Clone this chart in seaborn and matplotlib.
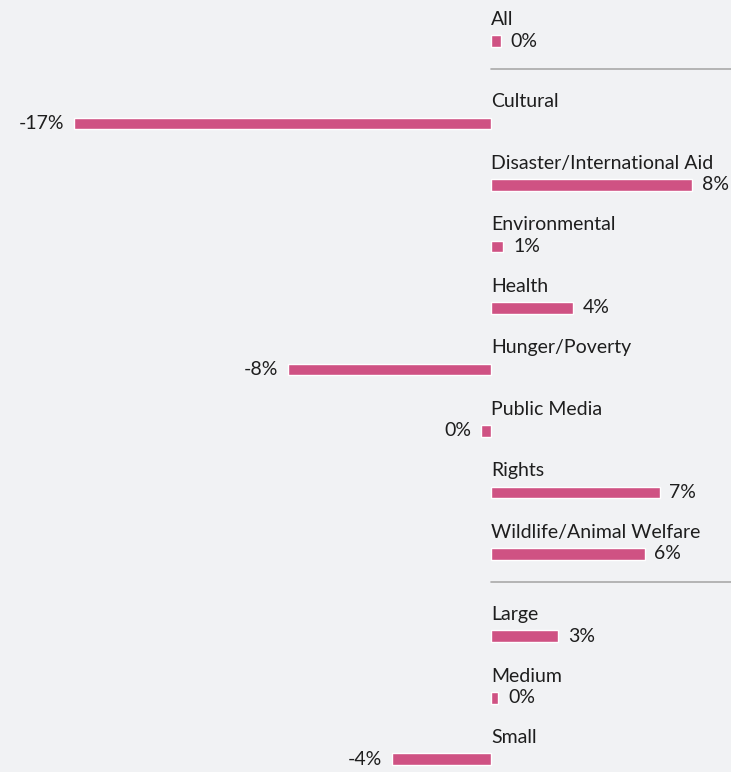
import numpy as np
import pandas as pd
import matplotlib
matplotlib.use("Agg")
import matplotlib.pyplot as plt
import seaborn as sns

# data (change in %)
categories = ["All", "Cultural", "Disaster/International Aid", "Environmental",
              "Health", "Hunger/Poverty", "Public Media", "Rights",
              "Wildlife/Animal Welfare", "Large", "Medium", "Small"]
values = [0.4, -16.8, 8.1, 0.5, 3.3, -8.2, -0.4, 6.8, 6.2, 2.7, 0.3, -4.0]
value_labels = ["0%", "-17%", "8%", "1%", "4%", "-8%", "0%", "7%", "6%",
                "3%", "0%", "-4%"]
group = ["total", "cause", "cause", "cause", "cause", "cause", "cause",
         "cause", "cause", "size", "size", "size"]

BG = "#f1f2f4"
BAR = "#cf5283"
TEXT = "#1e1e1e"

sns.set_theme(style="white")
plt.rcParams["font.family"] = ["Lato", "DejaVu Sans"]

# row positions: one step per row, an extra gap between groups
pos = []
p = 0.0
for i, g in enumerate(group):
    if i > 0 and g != group[i - 1]:
        p += 0.34
    pos.append(p)
    p += 1.0

df = pd.DataFrame({"category": categories, "value": values,
                   "label": value_labels, "pos": pos})

fig = plt.figure(figsize=(7.31, 7.72), dpi=100)
fig.patch.set_facecolor(BG)
ax = fig.add_axes([0, 0, 1, 1])
ax.set_facecolor(BG)

sns.barplot(data=df, x="value", y="pos", orient="h", native_scale=True,
            color=BAR, saturation=1, width=0.19, ax=ax)

ax.set_xlim(-19.8, 9.68)
ax.set_ylim(11.886, -0.667)
ax.set_axis_off()

for _, r in df.iterrows():
    ax.annotate(r["category"], xy=(0, r["pos"]), xytext=(0, 11.5),
                textcoords="offset points", ha="left", va="baseline",
                fontsize=14, color=TEXT)
    if r["value"] >= 0:
        ax.annotate(r["label"], xy=(r["value"], r["pos"]), xytext=(7, 0),
                    textcoords="offset points", ha="left", va="center",
                    fontsize=14, color=TEXT)
    else:
        ax.annotate(r["label"], xy=(r["value"], r["pos"]), xytext=(-7, 0),
                    textcoords="offset points", ha="right", va="center",
                    fontsize=14, color=TEXT)

# separator lines between groups
for i in range(1, len(group)):
    if group[i] != group[i - 1]:
        y = pos[i - 1] + 0.45
        ax.plot([0, ax.get_xlim()[1]], [y, y], color="#a9a9a9", lw=1.2)

fig.savefig("out.png", dpi=100, facecolor=BG)
